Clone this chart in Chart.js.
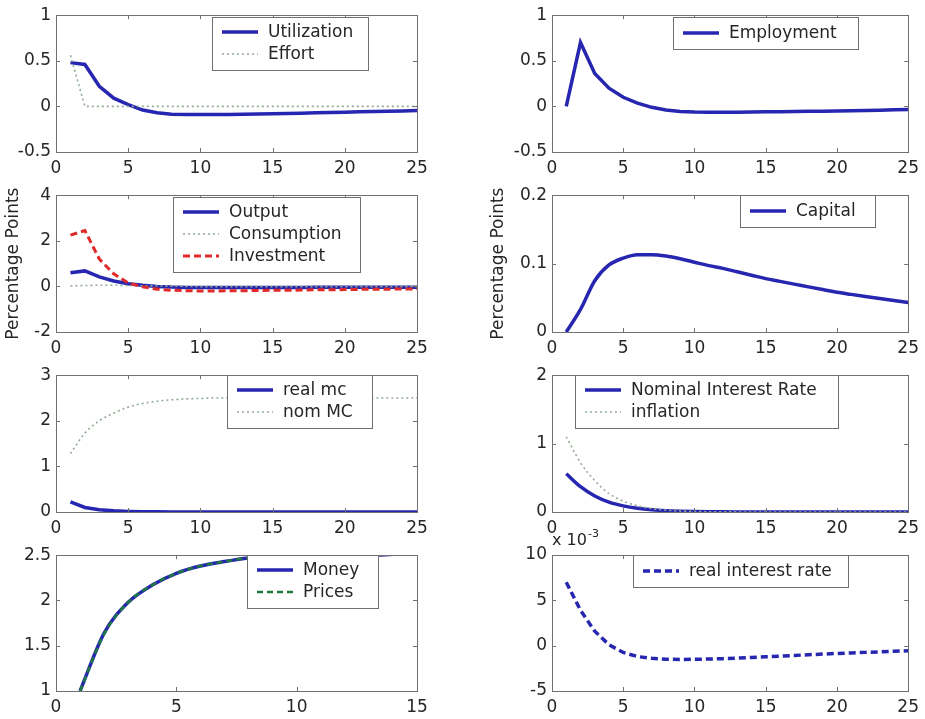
<!DOCTYPE html>
<html>
<head>
<meta charset="utf-8">
<script src="https://cdn.jsdelivr.net/npm/chart.js@4.4.1/dist/chart.umd.min.js"></script>
<style>
html, body { margin: 0; padding: 0; background: #fff; overflow: hidden; }
#wrap { position: relative; width: 925px; height: 719px; }
canvas { position: absolute; }
</style>
</head>
<body>
<div id="wrap">
  <canvas id="p1" width="460" height="180" style="left:0;top:0"></canvas>
  <canvas id="p2" width="465" height="180" style="left:460px;top:0"></canvas>
  <canvas id="p3" width="460" height="180" style="left:0;top:180px"></canvas>
  <canvas id="p4" width="465" height="180" style="left:460px;top:180px"></canvas>
  <canvas id="p5" width="460" height="180" style="left:0;top:360px"></canvas>
  <canvas id="p6" width="465" height="180" style="left:460px;top:360px"></canvas>
  <canvas id="p7" width="460" height="179" style="left:0;top:540px"></canvas>
  <canvas id="p8" width="465" height="199" style="left:460px;top:520px"></canvas>
</div>
<script>
// periods (quarters after the shock)
var periods = [1, 2, 3, 4, 5, 6, 7, 8, 9, 10, 11, 12, 13, 14, 15, 16, 17, 18, 19, 20, 21, 22, 23, 24, 25];
var periodsShort = [1, 2, 3, 4, 5, 6, 7, 8, 9, 10, 11, 12, 13, 14, 15];

// series
var utilization = [0.48, 0.46, 0.22, 0.09, 0.02, -0.04, -0.07, -0.085, -0.09, -0.09, -0.09, -0.088, -0.085, -0.082, -0.08, -0.077, -0.074, -0.07, -0.067, -0.064, -0.06, -0.057, -0.054, -0.05, -0.045];
var effort = [0.56, 0, 0, 0, 0, 0, 0, 0, 0, 0, 0, 0, 0, 0, 0, 0, 0, 0, 0, 0, 0, 0, 0, 0, 0];
var employment = [0, 0.70, 0.36, 0.2, 0.1, 0.035, -0.01, -0.04, -0.055, -0.062, -0.065, -0.065, -0.064, -0.062, -0.06, -0.058, -0.056, -0.054, -0.052, -0.05, -0.047, -0.044, -0.041, -0.038, -0.035];
var output = [0.6, 0.68, 0.42, 0.24, 0.12, 0.05, 0.0, -0.03, -0.045, -0.05, -0.05, -0.05, -0.05, -0.048, -0.047, -0.045, -0.044, -0.042, -0.041, -0.04, -0.038, -0.037, -0.035, -0.034, -0.033];
var consumption = [0.02, 0.04, 0.05, 0.05, 0.04, 0.03, 0.02, 0.01, 0, -0.01, -0.01, -0.01, -0.01, -0.01, -0.01, -0.01, -0.01, -0.01, -0.01, -0.01, -0.01, -0.01, -0.01, -0.01, -0.01];
var investment = [2.25, 2.45, 1.2, 0.55, 0.15, -0.02, -0.12, -0.17, -0.19, -0.2, -0.2, -0.19, -0.19, -0.18, -0.17, -0.17, -0.16, -0.15, -0.15, -0.14, -0.13, -0.13, -0.12, -0.11, -0.11];
var capital = [0, 0.033, 0.075, 0.098, 0.108, 0.113, 0.113, 0.111, 0.107, 0.102, 0.097, 0.093, 0.088, 0.083, 0.078, 0.074, 0.07, 0.066, 0.062, 0.058, 0.055, 0.052, 0.049, 0.046, 0.043];
var realMc = [0.22, 0.1, 0.05, 0.025, 0.012, 0.006, 0.003, 0.001, 0, 0, 0, 0, 0, 0, 0, 0, 0, 0, 0, 0, 0, 0, 0, 0, 0];
var nomMc = [1.28, 1.73, 2.0, 2.17, 2.3, 2.38, 2.43, 2.46, 2.48, 2.49, 2.5, 2.5, 2.5, 2.5, 2.5, 2.5, 2.5, 2.5, 2.5, 2.5, 2.5, 2.5, 2.5, 2.5, 2.5];
var nominalRate = [0.56, 0.37, 0.235, 0.145, 0.09, 0.055, 0.033, 0.02, 0.012, 0.007, 0.004, 0.002, 0.001, 0, 0, 0, 0, 0, 0, 0, 0, 0, 0, 0, 0];
var inflation = [1.1, 0.72, 0.46, 0.27, 0.16, 0.09, 0.05, 0.028, 0.015, 0.008, 0.004, 0.002, 0.001, 0, 0, 0, 0, 0, 0, 0, 0, 0, 0, 0, 0];
var money = [1.0, 1.64, 1.98, 2.17, 2.3, 2.38, 2.43, 2.47, 2.49, 2.5, 2.5, 2.5, 2.5, 2.51, 2.52];
var prices = [1.0, 1.63, 1.98, 2.17, 2.3, 2.38, 2.43, 2.47, 2.49, 2.5, 2.5, 2.5, 2.5, 2.51, 2.52];
var realRate = [7.0, 3.9, 1.6, 0.1, -0.75, -1.2, -1.4, -1.5, -1.52, -1.5, -1.47, -1.43, -1.38, -1.3, -1.22, -1.15, -1.08, -1.0, -0.93, -0.86, -0.8, -0.74, -0.68, -0.62, -0.56]; // x 10^-3

// tick labels
var xTicks25 = [0, 5, 10, 15, 20, 25];
var xTicks15 = [0, 5, 10, 15];
var yTicksUtil = [-0.5, 0, 0.5, 1];
var yTicksOutput = [-2, 0, 2, 4];
var yTicksCapital = [0, 0.1, 0.2];
var yTicksMc = [0, 1, 2, 3];
var yTicksRate = [0, 1, 2];
var yTicksMoney = [1, 1.5, 2, 2.5];
var yTicksReal = [-5, 0, 5, 10];

var FONT = '"DejaVu Sans", "Liberation Sans", Arial, sans-serif';
var TEXT = '#262626';
var AXIS = '#707070';

// line styles
function solidBlue(label, xs, ys, smooth) {
    return mk(label, xs, ys, '#2626b0', 3.5, [], smooth);
}
function dotted(label, xs, ys, smooth) {
    return mk(label, xs, ys, '#93ab93', 1.6, [2, 3], smooth);
}
function mk(label, xs, ys, color, width, dash, smooth) {
    var ds = {
        label: label,
        data: xs.map(function (x, i) { return { x: x, y: ys[i] }; }),
        borderColor: color,
        borderWidth: width,
        borderDash: dash,
        pointRadius: 0,
        tension: 0,
        fill: false
    };
    if (smooth) ds.cubicInterpolationMode = 'monotone';
    return ds;
}

// matlab style box with ticks pointing inwards
var matlabBox = {
    id: 'matlabBox',
    afterDraw: function (chart) {
        var ctx = chart.ctx, a = chart.chartArea;
        var x = chart.scales.x, y = chart.scales.y;
        ctx.save();
        ctx.strokeStyle = AXIS;
        ctx.lineWidth = 1;
        ctx.strokeRect(Math.round(a.left) + 0.5, Math.round(a.top) + 0.5, Math.round(a.width), Math.round(a.height));
        ctx.beginPath();
        x.ticks.forEach(function (t) {
            var px = Math.round(x.getPixelForValue(t.value)) + 0.5;
            ctx.moveTo(px, a.bottom); ctx.lineTo(px, a.bottom - 4);
            ctx.moveTo(px, a.top); ctx.lineTo(px, a.top + 4);
        });
        y.ticks.forEach(function (t) {
            var py = Math.round(y.getPixelForValue(t.value)) + 0.5;
            ctx.moveTo(a.left, py); ctx.lineTo(a.left + 4, py);
            ctx.moveTo(a.right, py); ctx.lineTo(a.right - 4, py);
        });
        ctx.stroke();
        ctx.restore();
    }
};

// opaque legend box inside the axes
var boxLegend = {
    id: 'boxLegend',
    afterDraw: function (chart, args, opts) {
        if (opts.x === undefined) return;
        var ctx = chart.ctx;
        var sets = chart.data.datasets;
        var n = sets.length;
        var h = n === 1 ? 32 : 15 + 22 * (n - 1) + 16;
        ctx.save();
        ctx.fillStyle = '#fff';
        ctx.fillRect(opts.x, opts.y, opts.w, h);
        ctx.strokeStyle = AXIS;
        ctx.lineWidth = 1;
        ctx.strokeRect(opts.x + 0.5, opts.y + 0.5, opts.w, h);
        sets.forEach(function (ds, i) {
            var cy = opts.y + (n === 1 ? 16 : 15 + 22 * i);
            ctx.beginPath();
            ctx.setLineDash(ds.borderDash || []);
            ctx.strokeStyle = ds.borderColor;
            ctx.lineWidth = ds.borderWidth;
            ctx.moveTo(opts.x + 10, cy);
            ctx.lineTo(opts.x + 46, cy);
            ctx.stroke();
            ctx.setLineDash([]);
            ctx.fillStyle = TEXT;
            ctx.font = '17px ' + FONT;
            ctx.textBaseline = 'middle';
            ctx.fillText(ds.label, opts.x + 56, cy + 1);
        });
        ctx.restore();
    }
};

// "x 10^-3" multiplier above the axis
var exponentLabel = {
    id: 'exponentLabel',
    afterDraw: function (chart, args, opts) {
        if (!opts.show) return;
        var ctx = chart.ctx, a = chart.chartArea;
        ctx.save();
        ctx.fillStyle = TEXT;
        ctx.textBaseline = 'alphabetic';
        ctx.font = '16px ' + FONT;
        ctx.fillText('x 10', a.left, a.top - 10);
        var w = ctx.measureText('x 10').width;
        ctx.font = '11px ' + FONT;
        ctx.fillText('-3', a.left + w + 1, a.top - 18);
        ctx.restore();
    }
};

function makePanel(id, side, datasets, xMax, xTicks, yTicks, legend, opts) {
    opts = opts || {};
    var left = side === 'left';
    // later series are drawn on top, as in the original plot
    datasets.forEach(function (ds, i) { ds.order = -i; });
    new Chart(document.getElementById(id), {
        type: 'line',
        data: { datasets: datasets },
        plugins: [matlabBox, boxLegend, exponentLabel],
        options: {
            responsive: false,
            animation: false,
            layout: {
                padding: { left: left ? 3 : 28, right: left ? 43 : 12, top: opts.top || 15, bottom: 0 }
            },
            plugins: {
                legend: { display: false },
                tooltip: { enabled: false },
                boxLegend: legend,
                exponentLabel: { show: !!opts.exponent }
            },
            scales: {
                x: {
                    type: 'linear',
                    min: 0,
                    max: xMax,
                    afterBuildTicks: function (s) { s.ticks = xTicks.map(function (v) { return { value: v }; }); },
                    afterFit: function (s) { s.height = 28; },
                    grid: { display: false, drawTicks: false },
                    border: { display: false },
                    ticks: {
                        padding: 6,
                        maxRotation: 0,
                        color: TEXT,
                        font: { family: FONT, size: 17 },
                        callback: function (v) { return String(v); }
                    }
                },
                y: {
                    type: 'linear',
                    min: yTicks[0],
                    max: yTicks[yTicks.length - 1],
                    afterBuildTicks: function (s) { s.ticks = yTicks.map(function (v) { return { value: v }; }); },
                    afterFit: function (s) { s.width = left ? 53 : 64; },
                    grid: { display: false, drawTicks: false },
                    border: { display: false },
                    title: {
                        display: !!opts.yTitle,
                        text: opts.yTitle || '',
                        color: TEXT,
                        font: { family: FONT, size: 17 },
                        padding: { top: 0, bottom: 0 }
                    },
                    ticks: {
                        padding: 5,
                        color: TEXT,
                        font: { family: FONT, size: 17 },
                        callback: function (v) { return String(v); }
                    }
                }
            }
        }
    });
}

makePanel('p1', 'left', [
    solidBlue('Utilization', periods, utilization),
    dotted('Effort', periods, effort)
], 25, xTicks25, yTicksUtil, { x: 212, y: 17, w: 156 });

makePanel('p2', 'right', [
    solidBlue('Employment', periods, employment)
], 25, xTicks25, yTicksUtil, { x: 213, y: 17, w: 185 });

makePanel('p3', 'left', [
    solidBlue('Output', periods, output),
    dotted('Consumption', periods, consumption),
    mk('Investment', periods, investment, '#e02a2a', 3, [7, 4])
], 25, xTicks25, yTicksOutput, { x: 173, y: 17, w: 187 }, { yTitle: 'Percentage Points' });

makePanel('p4', 'right', [
    solidBlue('Capital', periods, capital, true)
], 25, xTicks25, yTicksCapital, { x: 280, y: 15, w: 135 }, { yTitle: 'Percentage Points' });

makePanel('p5', 'left', [
    solidBlue('real mc', periods, realMc),
    dotted('nom MC', periods, nomMc, true)
], 25, xTicks25, yTicksMc, { x: 227, y: 15, w: 145 });

makePanel('p6', 'right', [
    solidBlue('Nominal Interest Rate', periods, nominalRate, true),
    dotted('inflation', periods, inflation, true)
], 25, xTicks25, yTicksRate, { x: 115, y: 15, w: 263 });

makePanel('p7', 'left', [
    solidBlue('Money', periodsShort, money, true),
    mk('Prices', periodsShort, prices, '#1f7a3d', 2.5, [6, 4], true)
], 15, xTicks15, yTicksMoney, { x: 247, y: 15, w: 131 });

makePanel('p8', 'right', [
    mk('real interest rate', periods, realRate, '#2626b0', 3.5, [7, 4])
], 25, xTicks25, yTicksReal, { x: 173, y: 35, w: 215 }, { top: 35, exponent: true });
</script>
</body>
</html>
